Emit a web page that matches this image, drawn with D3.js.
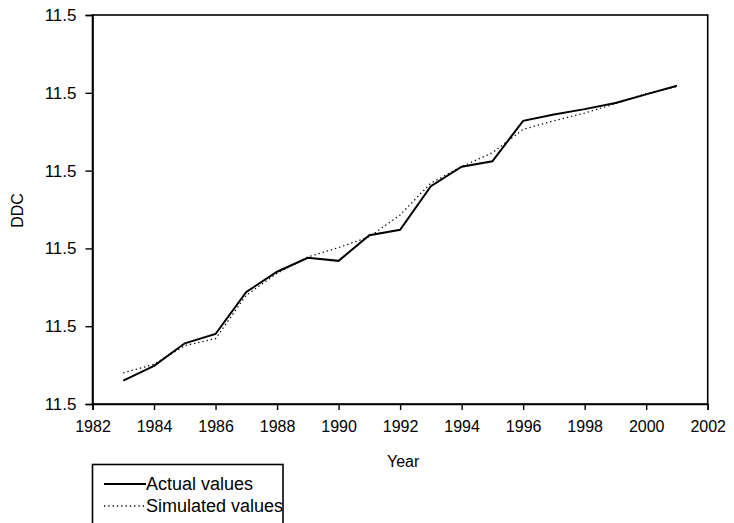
<!DOCTYPE html>
<html>
<head>
<meta charset="utf-8">
<script src="https://cdn.jsdelivr.net/npm/d3@7"></script>
<style>
  html, body { margin: 0; padding: 0; background: #fff; }
  svg { display: block; }
  text { font-family: "Liberation Sans", Arial, sans-serif; fill: #000; }
</style>
</head>
<body>
<svg id="chart" width="734" height="523"></svg>
<script>
// ---- data ----
const years = [1983,1984,1985,1986,1987,1988,1989,1990,1991,1992,1993,1994,1995,1996,1997,1998,1999,2000,2001];
const actualValues = [0.30,0.49,0.78,0.90,1.44,1.70,1.88,1.84,2.17,2.24,2.80,3.05,3.12,3.64,3.72,3.79,3.87,3.98,4.09];
const simulatedValues = [0.40,0.51,0.75,0.84,1.40,1.68,1.89,2.01,2.15,2.43,2.84,3.05,3.23,3.53,3.64,3.74,3.86,3.99,4.08];
const xTicks = [1982,1984,1986,1988,1990,1992,1994,1996,1998,2000,2002];
const yTicks = [0,1,2,3,4,5];
const yTickLabels = ["11.5","11.5","11.5","11.5","11.5","11.5"];
const seriesNames = ["Actual values","Simulated values"];
const xTitle = "Year";
const yTitle = "DDC";

// ---- layout ----
const svg = d3.select("#chart");
const L = 92.5, R = 707.7, T = 15, B = 404;

const x = d3.scaleLinear().domain([1982, 2002]).range([L, R]);
const y = d3.scaleLinear().domain([0, 5]).range([B, T]);

// frame
svg.append("rect")
  .attr("x", L).attr("y", T).attr("width", R - L).attr("height", B - T)
  .attr("fill", "none").attr("stroke", "#000").attr("stroke-width", 1.6);

// x axis
const xAxis = svg.append("g").attr("transform", `translate(0,${B})`)
  .call(d3.axisBottom(x).tickValues(xTicks).tickFormat(d3.format("d")).tickSizeOuter(0).tickSize(6).tickPadding(11));
xAxis.select(".domain").attr("stroke-width", 1.6);
xAxis.selectAll(".tick line").attr("stroke-width", 1.4);
xAxis.selectAll("text").style("font-size", "16px").style("font-family", "Liberation Sans, Arial, sans-serif");

// y axis
const yAxis = svg.append("g").attr("transform", `translate(${L},0)`)
  .call(d3.axisLeft(y).tickValues(yTicks).tickFormat((d, i) => yTickLabels[i]).tickSizeOuter(0).tickSize(7).tickPadding(9));
yAxis.select(".domain").attr("stroke-width", 1.6);
yAxis.selectAll(".tick line").attr("stroke-width", 1.4);
yAxis.selectAll("text").style("font-size", "17px").style("font-family", "Liberation Sans, Arial, sans-serif");

// titles
svg.append("text").attr("x", (L + R) / 2 + 3).attr("y", 467)
  .attr("text-anchor", "middle").style("font-size", "16px").text(xTitle);
svg.append("text").attr("transform", `translate(23,${(T + B) / 2 + 1}) rotate(-90)`)
  .attr("text-anchor", "middle").style("font-size", "16px").text(yTitle);

// lines
const line = d3.line().x((d, i) => x(years[i])).y(d => y(d));
svg.append("path").datum(simulatedValues).attr("d", line)
  .attr("fill", "none").attr("stroke", "#000").attr("stroke-width", 1.3)
  .attr("stroke-dasharray", "1.3,3");
svg.append("path").datum(actualValues).attr("d", line)
  .attr("fill", "none").attr("stroke", "#000").attr("stroke-width", 2);

// legend
const lg = svg.append("g");
lg.append("rect").attr("x", 92.5).attr("y", 464.5).attr("width", 190.5).attr("height", 80)
  .attr("fill", "#fff").attr("stroke", "#000").attr("stroke-width", 1.6);
const dashes = [null, "1.3,3"];
const widths = [2, 1.3];
seriesNames.forEach((name, i) => {
  const yy = 484 + i * 22;
  lg.append("line").attr("x1", 104).attr("x2", 146).attr("y1", yy).attr("y2", yy)
    .attr("stroke", "#000").attr("stroke-width", widths[i])
    .attr("stroke-dasharray", dashes[i]);
  lg.append("text").attr("x", 146).attr("y", yy + 6).style("font-size", "18px").text(name);
});
</script>
</body>
</html>
